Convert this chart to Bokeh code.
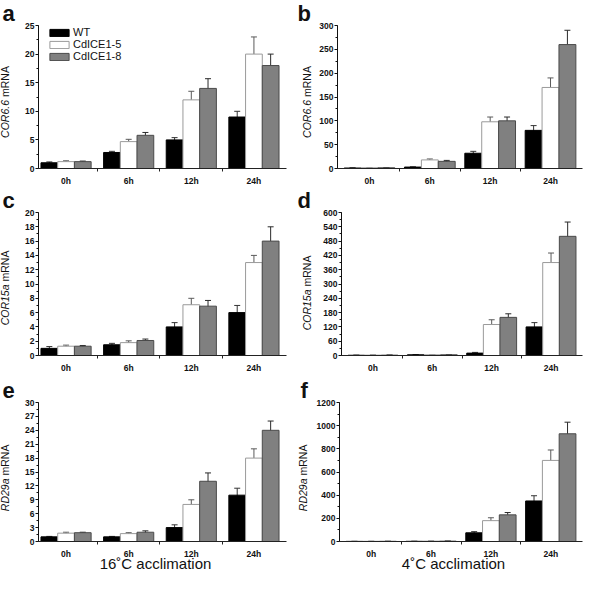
import math
from bokeh.plotting import figure
from bokeh.layouts import column, row
from bokeh.models import (ColumnDataSource, FixedTicker, SingleIntervalTicker, Whisker,
                          TeeHead, Range1d)
from bokeh.core.properties import value
from bokeh.embed import file_html
from bokeh.resources import INLINE

times = ["0h", "6h", "12h", "24h"]
series = ["WT", "CdICE1-5", "CdICE1-8"]

# a: COR6.6, 16 C
a_wt = [1.0, 2.8, 5.0, 9.0]
a_wt_err = [0.15, 0.2, 0.4, 1.0]
a_c5 = [1.2, 4.7, 12.0, 20.0]
a_c5_err = [0.15, 0.4, 1.5, 3.0]
a_c8 = [1.2, 5.8, 14.0, 18.0]
a_c8_err = [0.1, 0.5, 1.7, 2.0]

# b: COR6.6, 4 C
b_wt = [1.0, 3.0, 32.0, 80.0]
b_wt_err = [0.3, 0.5, 4.0, 10.0]
b_c5 = [1.5, 18.0, 98.0, 170.0]
b_c5_err = [0.3, 2.0, 10.0, 20.0]
b_c8 = [1.5, 15.0, 100.0, 260.0]
b_c8_err = [0.3, 2.0, 8.0, 30.0]

# c: COR15a, 16 C
c_wt = [1.0, 1.5, 4.0, 6.0]
c_wt_err = [0.25, 0.2, 0.6, 1.0]
c_c5 = [1.3, 1.8, 7.1, 13.0]
c_c5_err = [0.15, 0.25, 0.9, 1.0]
c_c8 = [1.3, 2.1, 6.9, 16.0]
c_c8_err = [0.1, 0.2, 0.8, 2.0]

# d: COR15a, 4 C
d_wt = [1.0, 3.0, 10.0, 120.0]
d_wt_err = [0.5, 0.5, 3.0, 18.0]
d_c5 = [1.5, 3.0, 130.0, 390.0]
d_c5_err = [0.5, 0.5, 20.0, 40.0]
d_c8 = [1.5, 3.0, 160.0, 500.0]
d_c8_err = [0.5, 0.5, 15.0, 60.0]

# e: RD29a, 16 C
e_wt = [1.0, 1.0, 3.0, 10.0]
e_wt_err = [0.1, 0.1, 0.6, 1.5]
e_c5 = [1.8, 1.7, 8.0, 18.0]
e_c5_err = [0.2, 0.2, 1.0, 2.0]
e_c8 = [1.9, 2.0, 13.0, 24.0]
e_c8_err = [0.1, 0.3, 1.8, 2.0]

# f: RD29a, 4 C
f_wt = [1.0, 1.5, 75.0, 350.0]
f_wt_err = [0.2, 0.3, 10.0, 45.0]
f_c5 = [1.5, 3.0, 180.0, 700.0]
f_c5_err = [0.3, 0.5, 25.0, 90.0]
f_c8 = [1.5, 3.0, 230.0, 930.0]
f_c8_err = [0.3, 0.5, 20.0, 100.0]

FONT = "Liberation Sans"
FILLS = ["#000000", "#ffffff", "#808080"]
LINES = ["#000000", "#9a9a9a", "#4a4a4a"]
ERRC = ["#333333", "#5a5a5a", "#2a2a2a"]


def panel(vals, errs, ymax, ystep, gene, split, letter, W, H, bl, br, bt, bb,
          xr, bw, let_dx, let_dy, ylab_dx, ylab_down, xlabel=None, xlabel_dx=0,
          legend=False):
    p = figure(width=W, height=H, output_backend="svg", toolbar_location=None,
               x_range=Range1d(*xr), y_range=Range1d(0, ymax),
               min_border_left=bl, min_border_right=br,
               min_border_top=bt, min_border_bottom=bb)
    p.outline_line_color = None
    p.grid.visible = False
    p.background_fill_color = "white"
    p.border_fill_color = "white"
    frame_w = W - bl - br
    frame_h = H - bt - bb
    # pixel-unit ranges of the frame, used only to place the annotation texts
    p.extra_x_ranges = {"px": Range1d(0, frame_w)}
    p.extra_y_ranges = {"py": Range1d(0, frame_h)}

    offsets = [-bw, 0.0, bw]
    for k in range(3):
        xs = [i + offsets[k] for i in range(len(times))]
        v = vals[k]
        e = errs[k]
        src = ColumnDataSource(dict(x=xs, top=v,
                                    up=[a + b for a, b in zip(v, e)],
                                    lo=[a - b for a, b in zip(v, e)]))
        kw = dict(legend_label=series[k]) if legend else {}
        p.vbar(x="x", top="top", width=bw, bottom=0, source=src,
               fill_color=FILLS[k], line_color=LINES[k], line_width=1, **kw)
        p.add_layout(Whisker(base="x", upper="up", lower="lo", source=src,
                             line_color=ERRC[k], line_width=1,
                             upper_head=TeeHead(size=6, line_color=ERRC[k], line_width=1),
                             lower_head=TeeHead(size=6, line_color=ERRC[k], line_width=1)))

    xa = p.xaxis[0]
    xa.ticker = FixedTicker(ticks=[0, 1, 2, 3], minor_ticks=[0.5, 1.5, 2.5])
    xa.major_label_overrides = {i: t for i, t in enumerate(times)}
    xa.major_tick_out = 0
    xa.major_tick_in = 0
    xa.minor_tick_out = 3
    xa.minor_tick_in = 0
    xa.major_label_standoff = 4
    xa.axis_line_color = "#222222"
    xa.minor_tick_line_color = "#222222"
    xa.major_label_text_font = FONT
    xa.major_label_text_font_style = "bold"
    xa.major_label_text_font_size = "8.5px"
    xa.major_label_text_color = "#111111"

    ya = p.yaxis[0]
    ya.ticker = SingleIntervalTicker(interval=ystep, num_minor_ticks=2)
    ya.major_tick_out = 3
    ya.major_tick_in = 0
    ya.minor_tick_out = 2
    ya.minor_tick_in = 0
    ya.major_label_standoff = 1
    ya.axis_line_color = "#111111"
    ya.major_tick_line_color = "#111111"
    ya.minor_tick_line_color = "#111111"
    ya.major_label_text_font = FONT
    ya.major_label_text_font_style = "bold"
    ya.major_label_text_font_size = "8.5px"
    ya.major_label_text_color = "#111111"

    def txt(x, y, s, size, style="normal", align="left", baseline="alphabetic", angle=0.0):
        src = ColumnDataSource(dict(x=[x], y=[y], t=[s]))
        p.text(x="x", y="y", text="t", source=src, x_range_name="px", y_range_name="py",
               level="annotation", angle=angle, text_font=value(FONT),
               text_font_size=value(size), text_font_style=style,
               text_align=align, text_baseline=baseline, text_color="#111111")

    cy = frame_h / 2 + split - ylab_down
    txt(ylab_dx, cy, gene, "10.5px", "italic", "right", "middle", math.pi / 2)
    txt(ylab_dx, cy + 3, "mRNA", "10.5px", "normal", "left", "middle", math.pi / 2)
    txt(let_dx, frame_h + let_dy, letter, "22px", "bold")
    if xlabel:
        txt(xlabel_dx, -22, xlabel, "15px", "normal", "center")

    if legend:
        lg = p.legend[0]
        lg.location = (9, frame_h - 39)
        lg.margin = 0
        lg.padding = 0
        lg.spacing = 0
        lg.glyph_width = 24
        lg.glyph_height = 9
        lg.label_height = 9
        lg.label_standoff = 2
        lg.label_text_font = FONT
        lg.label_text_font_size = "11px"
        lg.label_text_color = "#111111"
        lg.background_fill_alpha = 0
        lg.border_line_color = None
    return p


LX = (-0.44, 3.52)
RX = (-0.53, 3.53)

pa = panel([a_wt, a_c5, a_c8], [a_wt_err, a_c5_err, a_c8_err], 25, 5, "COR6.6", 2, "a",
           290, 188, 38, 4, 25, 18, LX, 0.267, -36, 12, -34, 5, legend=True)
pb = panel([b_wt, b_c5, b_c8], [b_wt_err, b_c5_err, b_c8_err], 300, 50, "COR6.6", 2, "b",
           294, 188, 47, 2, 25, 18, RX, 0.28, -40, 12, -31, 5)
pc = panel([c_wt, c_c5, c_c8], [c_wt_err, c_c5_err, c_c8_err], 20, 2, "COR15a", 3.5, "c",
           290, 190, 38, 4, 24, 23, LX, 0.267, -36, 12, -34, 4)
pd = panel([d_wt, d_c5, d_c8], [d_wt_err, d_c5_err, d_c8_err], 600, 60, "COR15a", 3.5, "d",
           294, 190, 51, 2, 24, 23, RX, 0.28, -44, 12, -35, 9)
pe = panel([e_wt, e_c5, e_c8], [e_wt_err, e_c5_err, e_c8_err], 30, 3, "RD29a", -0.5, "e",
           290, 197, 38, 4, 24, 34, LX, 0.267, -36, 12, -34, 6,
           xlabel="16\u02daC acclimation", xlabel_dx=117)
pf = panel([f_wt, f_c5, f_c8], [f_wt_err, f_c5_err, f_c8_err], 1200, 200, "RD29a", -0.5, "f",
           294, 197, 49, 2, 24, 34, RX, 0.28, -39, 12, -37, 6,
           xlabel="4\u02daC acclimation", xlabel_dx=114)

layout = column(row(pa, pb), row(pc, pd), row(pe, pf))
open("out.html", "w").write(file_html(layout, INLINE))
